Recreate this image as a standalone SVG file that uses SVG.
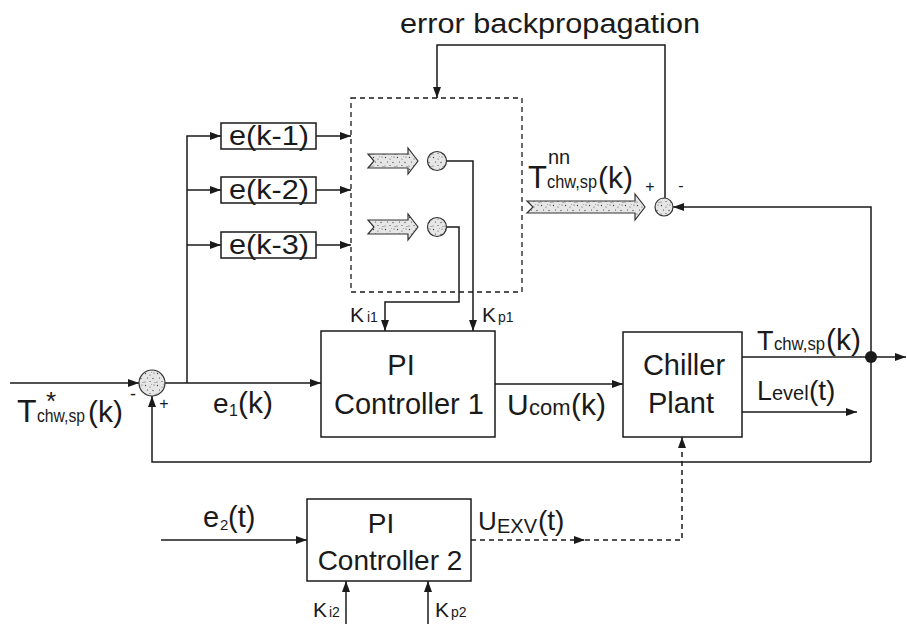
<svg xmlns="http://www.w3.org/2000/svg" width="907" height="624" viewBox="0 0 907 624">
<defs>
<marker id="ah" markerUnits="userSpaceOnUse" markerWidth="11" markerHeight="8" refX="11" refY="4" orient="auto"><path d="M0,0 L11,4 L0,8 z" fill="#1a1a1a"/></marker>
<pattern id="stip" width="12" height="12" patternUnits="userSpaceOnUse">
<rect width="12" height="12" fill="#e6e6e6"/>
<circle cx="1.5" cy="1.5" r="0.7" fill="#444"/><circle cx="6" cy="3" r="0.6" fill="#555"/><circle cx="10" cy="1" r="0.5" fill="#333"/>
<circle cx="3.5" cy="6" r="0.6" fill="#444"/><circle cx="9" cy="6.5" r="0.7" fill="#555"/><circle cx="1" cy="10" r="0.5" fill="#333"/>
<circle cx="6" cy="9.5" r="0.6" fill="#444"/><circle cx="11" cy="10.5" r="0.5" fill="#555"/><circle cx="7.5" cy="0.5" r="0.4" fill="#666"/>
</pattern>
</defs>
<style>
.ln{fill:none;stroke:#1a1a1a;stroke-width:1.5}
.ar{marker-end:url(#ah)}
.ds{stroke-dasharray:5,4}
.bx{fill:#fff;stroke:#1a1a1a;stroke-width:1.5}
.sm{fill:url(#stip);stroke:#333;stroke-width:1.2}
.t{font-family:"Liberation Sans",Arial,sans-serif;fill:#1a1a1a}
.c{text-anchor:middle}
</style>
<rect width="907" height="624" fill="#fff"/>

<g id="connectors">
<path class="ln ar" d="M10,383 H139"/>
<path class="ln ar" d="M165,383 H321"/>
<path class="ln ar" d="M187,383 V136 H221"/>
<path class="ln ar" d="M187,190 H221"/>
<path class="ln ar" d="M187,245 H221"/>
<path class="ln ar" d="M316,136 H351"/>
<path class="ln ar" d="M316,190 H351"/>
<path class="ln ar" d="M316,245 H351"/>
<path class="ln ar" d="M446,161 H473 V331"/>
<path class="ln ar" d="M446,227 H459 V302 H385 V331"/>
<path class="ln ar" d="M495,384 H623"/>
<path class="ln" d="M742,357 H871"/>
<path class="ln ar" d="M871,357 H906"/>
<path class="ln ar" d="M742,412 H857"/>
<path class="ln ar" d="M871,462 V207 H673"/>
<path class="ln ar" d="M871,462 H152 V396"/>
<path class="ln ar" d="M665,198 V45 H437 V98"/>
<path class="ln ar" d="M161,540 H307"/>
<path class="ln ar ds" d="M471,540 H585"/>
<path class="ln ar ds" d="M585,540 H682 V437"/>
<path class="ln ar" d="M346,624 V581"/>
<path class="ln ar" d="M428,624 V581"/>
<circle cx="871" cy="357" r="6" fill="#1a1a1a"/>
</g>

<g id="error-label"><text class="t" x="400" y="33" font-size="27" textLength="300" lengthAdjust="spacingAndGlyphs">error backpropagation</text></g>

<g id="nn-box">
<rect x="351" y="98" width="171" height="194" fill="none" stroke="#1a1a1a" stroke-width="1.3" class="ds"/>
<polygon class="sm" points="368,154 408,154 408,148 418,161 408,174 408,168 368,168 374,161"/>
<polygon class="sm" points="368,220 408,220 408,214 418,227 408,240 408,234 368,234 374,227"/>
<circle class="sm" cx="437" cy="161" r="9.5"/>
<circle class="sm" cx="437" cy="227" r="9.5"/>
</g>

<g id="delay1"><rect class="bx" x="221" y="123" width="95" height="26"/><text class="t c" x="269" y="145" font-size="27" textLength="80" lengthAdjust="spacingAndGlyphs">e(k-1)</text></g>
<g id="delay2"><rect class="bx" x="221" y="177" width="95" height="26"/><text class="t c" x="269" y="199" font-size="27" textLength="80" lengthAdjust="spacingAndGlyphs">e(k-2)</text></g>
<g id="delay3"><rect class="bx" x="221" y="232" width="95" height="26"/><text class="t c" x="269" y="254" font-size="27" textLength="80" lengthAdjust="spacingAndGlyphs">e(k-3)</text></g>

<g id="nn-output">
<polygon class="sm" points="527,201 635,201 635,194 645,207 635,220 635,213 527,213 533,207"/>
<text class="t" x="528" y="188" font-size="31">T</text>
<text class="t" x="548" y="164" font-size="20">nn</text>
<text class="t" x="547" y="188" font-size="18" textLength="50" lengthAdjust="spacingAndGlyphs">chw,sp</text>
<text class="t" x="598" y="188" font-size="30">(k)</text>
</g>

<g id="sum-top">
<circle class="sm" cx="664" cy="207" r="9"/>
<text class="t c" x="650" y="192" font-size="16">+</text>
<text class="t c" x="681" y="191" font-size="16">-</text>
</g>

<g id="sum-main">
<circle class="sm" cx="152" cy="383" r="13"/>
<text class="t c" x="133" y="400" font-size="18">-</text>
<text class="t c" x="164" y="409" font-size="16">+</text>
</g>

<g id="input-label">
<text class="t" x="17" y="422" font-size="32">T</text>
<text class="t c" x="51" y="410" font-size="26">*</text>
<text class="t" x="37" y="422" font-size="18" textLength="48" lengthAdjust="spacingAndGlyphs">chw,sp</text>
<text class="t" x="88" y="422" font-size="30">(k)</text>
</g>

<g id="e1-label">
<text class="t" x="213" y="413" font-size="28">e</text>
<text class="t" x="229" y="416" font-size="16">1</text>
<text class="t" x="238" y="413" font-size="30">(k)</text>
</g>

<g id="pi1">
<rect class="bx" x="321" y="331" width="174" height="106"/>
<text class="t c" x="401" y="375" font-size="29">PI</text>
<text class="t c" x="409" y="414" font-size="29">Controller 1</text>
<text class="t" x="350" y="322" font-size="21">K</text><text class="t" x="367" y="322" font-size="14">i1</text>
<text class="t" x="482" y="322" font-size="21">K</text><text class="t" x="498" y="322" font-size="14">p1</text>
</g>

<g id="ucom-label">
<text class="t" x="507" y="415" font-size="30">U</text>
<text class="t" x="529" y="415" font-size="22">com</text>
<text class="t" x="571" y="415" font-size="30">(k)</text>
</g>

<g id="plant">
<rect class="bx" x="623" y="332" width="119" height="105"/>
<text class="t c" x="684" y="375" font-size="29">Chiller</text>
<text class="t c" x="681" y="413" font-size="29">Plant</text>
</g>

<g id="tout-label">
<text class="t" x="757" y="350" font-size="27">T</text>
<text class="t" x="774" y="350" font-size="18" textLength="51" lengthAdjust="spacingAndGlyphs">chw,sp</text>
<text class="t" x="826" y="350" font-size="30">(k)</text>
</g>

<g id="level-label">
<text class="t" x="757" y="400" font-size="27">L</text>
<text class="t" x="772" y="400" font-size="20">evel</text>
<text class="t" x="809" y="400" font-size="28">(t)</text>
</g>

<g id="pi2">
<rect class="bx" x="307" y="499" width="164" height="82"/>
<text class="t c" x="381" y="533" font-size="28">PI</text>
<text class="t c" x="390" y="570" font-size="28">Controller 2</text>
<text class="t" x="313" y="617" font-size="21">K</text><text class="t" x="329" y="617" font-size="14">i2</text>
<text class="t" x="435" y="617" font-size="21">K</text><text class="t" x="451" y="617" font-size="14">p2</text>
</g>

<g id="e2-label">
<text class="t" x="203" y="527" font-size="29">e</text>
<text class="t" x="220" y="530" font-size="15">2</text>
<text class="t" x="228" y="527" font-size="29">(t)</text>
</g>

<g id="uexv-label">
<text class="t" x="478" y="530" font-size="26">U</text>
<text class="t" x="497" y="533" font-size="20">EXV</text>
<text class="t" x="538" y="530" font-size="28">(t)</text>
</g>
</svg>
